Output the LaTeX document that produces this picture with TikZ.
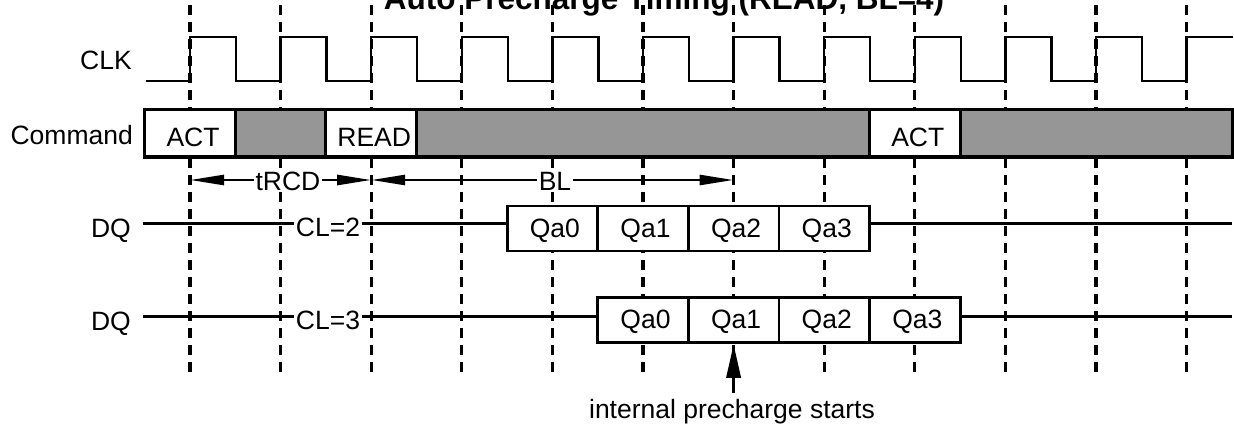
\documentclass[tikz,border=0pt]{standalone}
\usepackage{fontspec}
\setmainfont{Liberation Sans}
\usetikzlibrary{arrows.meta}
\definecolor{cmdgray}{RGB}{150,150,150}
\newcommand\lblfont{\fontsize{26.5}{30}\selectfont}
\begin{document}
\begin{tikzpicture}[x=1pt,y=-1pt,
  lbl/.style={font=\lblfont, inner sep=0pt},
  tag/.style={font=\lblfont, inner xsep=2pt, inner ysep=1pt, fill=white},
  titlestyle/.style={font=\fontsize{31.5}{36}\selectfont\bfseries, inner sep=0pt},
  sig/.style={line width=2.4pt},
  wire/.style={line width=3pt},
  guide/.style={line width=3.2pt, dash pattern=on 10pt off 7pt},
  cmdcell/.style={draw, line width=3pt, minimum height=47pt, inner sep=0pt,
    font=\lblfont, text height=26pt, text depth=0pt,
    execute at begin node=\hspace*{6pt}},
  dqcell/.style={draw, fill=white, line width=2.8pt, minimum width=90.6pt, minimum height=45pt,
    inner sep=0pt, font=\lblfont, text height=17pt, text depth=0pt,
    execute at begin node=\hspace*{5pt}},
  dim/.style={line width=2.6pt, arrows={Triangle[length=34pt,width=10pt]-Triangle[length=34pt,width=10pt]}},
  uparrow/.style={line width=3.6pt, arrows={-Triangle[length=34pt,width=14pt]}}
]
\useasboundingbox (0,0) rectangle (1234,425);

% title (partly cut off at top, as in the original)
\node[titlestyle, anchor=base] (title) at (664,10) {Auto Precharge Timing (READ, BL=4)};

% dashed guide lines at each rising edge
\foreach \k in {0,...,11} {
  \coordinate (gb\k) at ({190+90.6*\k},372);
  \coordinate (gt\k) at ({190+90.6*\k},-3);
  \draw[guide] (gb\k) -- (gt\k);
}

% clock waveform
\draw[sig] (146,81)
  \foreach \k in {0,...,10} {
    -- ({190+90.6*\k},81) -- ({190+90.6*\k},37) -- ({236+90.6*\k},37) -- ({236+90.6*\k},81)
  } -- (1186.6,81) -- (1186.6,37) -- (1233,37);

% row labels
\node[lbl, anchor=base east] (clk) at (132,70) {CLK};
\node[lbl, anchor=base east] (cmdlbl) at (133,145) {Command};
\node[lbl, anchor=base east] (dqa) at (131,237) {DQ};
\node[lbl, anchor=base east] (dqb) at (131,330) {DQ};

% command row
\node[cmdcell, fill=white, minimum width=90.6pt] (c0) at (190,133.5) {ACT};
\node[cmdcell, fill=cmdgray, minimum width=90.6pt] (c1) at (280.6,133.5) {};
\node[cmdcell, fill=white, minimum width=90.6pt] (c2) at (371.2,133.5) {READ};
\node[cmdcell, fill=cmdgray, minimum width=453pt] (c3) at (643,133.5) {};
\node[cmdcell, fill=white, minimum width=90.6pt] (c4) at (914.8,133.5) {ACT};
\node[cmdcell, fill=cmdgray, minimum width=271.9pt] (c5) at (1096.05,133.5) {};

% timing dimension arrows
\coordinate (t0) at (190,180);
\coordinate (t1) at (371.2,180);
\coordinate (b0) at (371.2,180);
\coordinate (b1) at (733.6,180);
\draw[dim] (t0) -- (t1);
\draw[dim] (b0) -- (b1);
\node[tag] (trcd) at (288,181) {tRCD};
\node[tag] (bl) at (555,181) {BL};

% DQ row 1 (CL=2)
\coordinate (d1a) at (143,223);
\coordinate (d1b) at (520,223);
\coordinate (d1c) at (860,223);
\coordinate (d1d) at (1232,223);
\draw[wire] (d1a) -- (d1b);
\draw[wire] (d1c) -- (d1d);
\node[tag] (cl2) at (328,227.5) {CL=2};
\node[dqcell] (r1q0) at (552.4,228.5) {Qa0};
\node[dqcell] (r1q1) at (643.0,228.5) {Qa1};
\node[dqcell] (r1q2) at (733.6,228.5) {Qa2};
\node[dqcell] (r1q3) at (824.2,228.5) {Qa3};

% DQ row 2 (CL=3)
\coordinate (d2a) at (143,316);
\coordinate (d2b) at (610,316);
\coordinate (d2c) at (950,316);
\coordinate (d2d) at (1232,316);
\draw[wire] (d2a) -- (d2b);
\draw[wire] (d2c) -- (d2d);
\node[tag] (cl3) at (328,320.5) {CL=3};
\node[dqcell] (r2q0) at (643.0,320) {Qa0};
\node[dqcell] (r2q1) at (733.6,320) {Qa1};
\node[dqcell] (r2q2) at (824.2,320) {Qa2};
\node[dqcell] (r2q3) at (914.8,320) {Qa3};

% internal precharge marker
\node[lbl, anchor=base] (ips) at (732,418) {internal precharge starts};
\coordinate (pa) at (733.6,393);
\draw[uparrow] (pa) -- (r2q1.south);
\end{tikzpicture}
\end{document}
